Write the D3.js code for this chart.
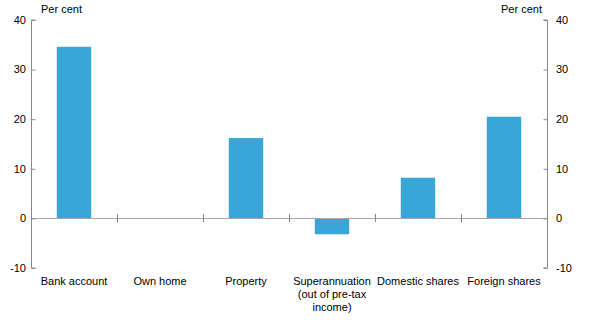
<!DOCTYPE html>
<html><head><meta charset="utf-8">
<script src="https://cdn.jsdelivr.net/npm/d3@7"></script>
<style>body{margin:0;background:#fff}svg{display:block}text{font-family:"Liberation Sans",Arial,sans-serif;font-size:11px;fill:#000}</style>
</head><body>
<script>
const categories = ["Bank account","Own home","Property","Superannuation\n(out of pre-tax\nincome)","Domestic shares","Foreign shares"];
const values = [34.6, 0, 16.2, -3.2, 8.2, 20.5];
const yTicks = [-10, 0, 10, 20, 30, 40];
const unitLabel = "Per cent";

(function(){
const W = 591, H = 327;
const mLeft = 31, mRight = 547, mTop = 20, mBottom = 268;
const svg = d3.select("body").append("svg").attr("width", W).attr("height", H);

const x = d3.scaleBand().domain(categories).range([mLeft, mRight]).paddingInner(0).paddingOuter(0);
const y = d3.scaleLinear().domain([-10, 40]).range([mBottom, mTop]);

// bars
svg.append("g").selectAll("rect").data(values).join("rect")
  .attr("x", (d,i) => x(categories[i]) + x.bandwidth()*0.3)
  .attr("width", x.bandwidth()*0.4)
  .attr("y", d => y(Math.max(0, d)))
  .attr("height", d => Math.abs(y(d) - y(0)))
  .attr("fill", "#38A7D7");

// zero line
svg.append("line").attr("x1", mLeft).attr("x2", mRight)
  .attr("y1", Math.round(y(0))+0.5).attr("y2", Math.round(y(0))+0.5)
  .attr("stroke", "#b0a4a8").attr("stroke-width", 1.2);

// category separator ticks
svg.append("g").selectAll("line").data(categories.slice(1)).join("line")
  .attr("x1", d => Math.round(x(d))+0.5).attr("x2", d => Math.round(x(d))+0.5)
  .attr("y1", Math.round(y(0))-4).attr("y2", Math.round(y(0))+4)
  .attr("stroke", "#8a8090");

// left axis
const la = svg.append("g").attr("transform", `translate(${mLeft+0.5},0)`)
  .call(d3.axisRight(y).tickValues(yTicks).tickSize(4).tickFormat(""));
la.select(".domain").attr("stroke", "#8a8a8a").attr("d", `M4,${y(40)}H0V${y(-10)}H4`);
la.selectAll(".tick line").attr("stroke", "#8a8a8a");
svg.append("g").selectAll("text").data(yTicks).join("text")
  .attr("x", 26).attr("y", d => y(d)).attr("dy", "0.35em").attr("text-anchor", "end").text(d => d);

// right axis
const ra = svg.append("g").attr("transform", `translate(${mRight+0.5},0)`)
  .call(d3.axisLeft(y).tickValues(yTicks).tickSize(4).tickFormat(""));
ra.select(".domain").attr("stroke", "#8a8a8a").attr("d", `M-4,${y(40)}H0V${y(-10)}H-4`);
ra.selectAll(".tick line").attr("stroke", "#8a8a8a");
svg.append("g").selectAll("text").data(yTicks).join("text")
  .attr("x", 556).attr("y", d => y(d)).attr("dy", "0.35em").attr("text-anchor", "start").text(d => d);

// unit labels
svg.append("text").attr("x", 41).attr("y", 13).text(unitLabel);
svg.append("text").attr("x", 542).attr("y", 13).attr("text-anchor", "end").text(unitLabel);

// category labels
const cl = svg.append("g").selectAll("text").data(categories).join("text")
  .attr("text-anchor", "middle")
  .attr("transform", d => `translate(${x(d)+x.bandwidth()/2},285)`);
cl.each(function(d){
  const lines = d.split("\n");
  d3.select(this).selectAll("tspan").data(lines).join("tspan")
    .attr("x", 0).attr("dy", (l,i) => i === 0 ? 0 : 13).text(l => l);
});
})();
</script>
</body></html>
